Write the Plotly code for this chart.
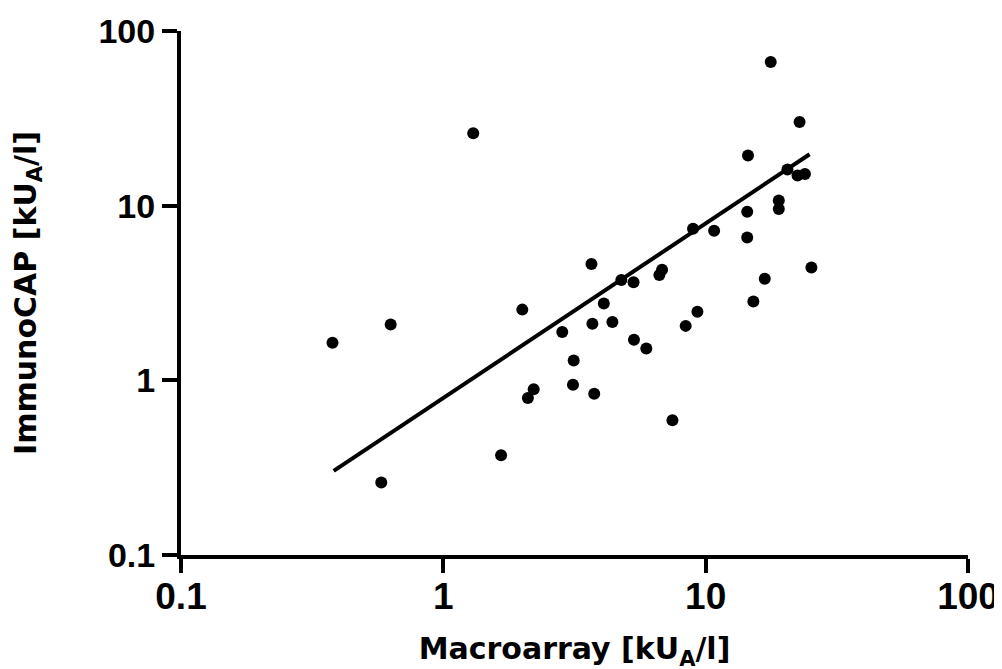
import plotly.graph_objects as go

# Macroarray (x) vs ImmunoCAP (y), kU_A/l
macroarray = [1.30, 17.7, 22.8, 14.5, 20.5, 22.4, 23.9, 19.0, 19.0, 14.4,
              14.4, 8.95, 10.77, 3.67, 4.77, 5.31, 6.82, 6.66, 25.3, 16.8,
              15.2, 4.09, 3.70, 4.41, 5.33, 5.94, 8.39, 9.30, 3.76, 7.47,
              0.378, 0.630, 2.00, 2.84, 3.14, 3.12, 2.21, 2.10, 1.66, 0.580]
immunocap = [26.0, 66.4, 30.1, 19.4, 16.1, 14.9, 15.2, 10.7, 9.56, 9.24,
             6.58, 7.38, 7.19, 4.63, 3.75, 3.64, 4.30, 4.01, 4.42, 3.82,
             2.83, 2.75, 2.11, 2.16, 1.71, 1.52, 2.05, 2.47, 0.839, 0.590,
             1.64, 2.09, 2.54, 1.89, 1.30, 0.944, 0.888, 0.792, 0.372, 0.260]

# regression line endpoints
fit_x = [0.382, 24.9]
fit_y = [0.303, 19.7]

tick_vals = [0.1, 1, 10, 100]
tick_text = ["0.1", "1", "10", "100"]

fig = go.Figure()
fig.add_trace(go.Scatter(x=fit_x, y=fit_y, mode="lines",
                         line=dict(color="black", width=4), showlegend=False))
fig.add_trace(go.Scatter(x=macroarray, y=immunocap, mode="markers",
                         marker=dict(color="black", size=12), showlegend=False))

fig.update_layout(
    template="none",
    width=1002, height=669,
    margin=dict(l=173, r=42, t=23, b=122),
    paper_bgcolor="white", plot_bgcolor="white",
    showlegend=False,
)
fig.update_xaxes(
    type="log", range=[-1, 2], automargin=False,
    tickvals=tick_vals, ticktext=tick_text,
    showline=True, linecolor="black", linewidth=4,
    ticks="outside", ticklen=14, tickwidth=4, tickcolor="black",
    showgrid=False, zeroline=False,
    tickfont=dict(family="Liberation Sans, Arial", size=37, color="black", weight="bold"),
    ticklabelstandoff=-8,
    title=dict(text="Macroarray [kU<sub>A</sub>/l]",
               font=dict(family="DejaVu Sans, Arial", size=30, color="black", weight="bold"),
               standoff=23),
)
fig.update_yaxes(
    type="log", range=[-1, 2], automargin=False,
    tickvals=tick_vals, ticktext=tick_text,
    showline=True, linecolor="black", linewidth=4,
    ticks="outside", ticklen=15, tickwidth=4, tickcolor="black",
    showgrid=False, zeroline=False,
    tickfont=dict(family="Liberation Sans, Arial", size=34, color="black", weight="bold"),
    title=dict(text="ImmunoCAP [kU<sub>A</sub>/l]",
               font=dict(family="DejaVu Sans, Arial", size=30, color="black", weight="bold"),
               standoff=60),
)

fig.write_html("out.html")
